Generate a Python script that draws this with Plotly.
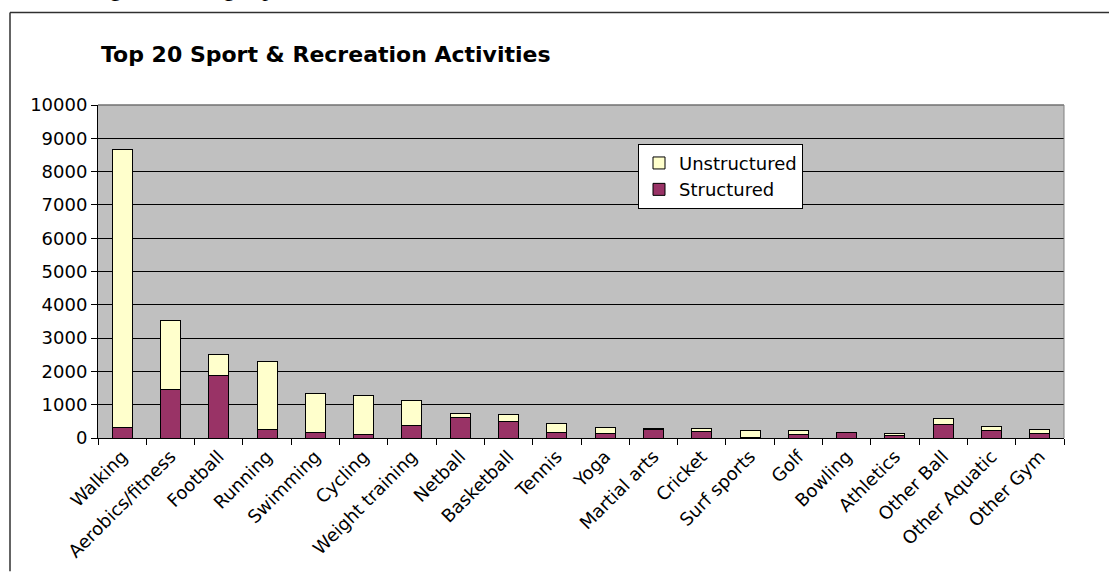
import plotly.graph_objects as go

categories = ["Walking", "Aerobics/fitness", "Football", "Running", "Swimming", "Cycling",
              "Weight training", "Netball", "Basketball", "Tennis", "Yoga", "Martial arts",
              "Cricket", "Surf sports", "Golf", "Bowling", "Athletics", "Other Ball",
              "Other Aquatic", "Other Gym"]
structured = [320, 1470, 1870, 260, 180, 100, 380, 630, 500, 180, 140, 265, 205, 20, 100, 160, 80, 405, 230, 140]
unstructured = [8330, 2060, 650, 2050, 1160, 1165, 745, 110, 210, 265, 175, 20, 90, 210, 120, 15, 60, 175, 115, 125]
y_ticks = list(range(0, 10001, 1000))

W, H = 1109, 574
L, R, T, B = 98, 1064, 105, 440


def px(x):
    return (x - L) / (R - L)


def py(y):
    return (B - y) / (B - T)


FONT = "DejaVu Sans, Liberation Sans, Arial, sans-serif"

fig = go.Figure()
fig.add_trace(go.Bar(name="Structured", x=categories, y=structured,
                     marker=dict(color="#993366", line=dict(color="black", width=1))))
fig.add_trace(go.Bar(name="Unstructured", x=categories, y=unstructured,
                     marker=dict(color="#FFFFCC", line=dict(color="black", width=1))))

fig.update_layout(
    width=W, height=H,
    margin=dict(l=L, r=W - R, t=T, b=H - B, pad=0),
    barmode="stack", bargap=0.585,
    paper_bgcolor="white", plot_bgcolor="#C0C0C0",
    font=dict(family=FONT, size=18, color="black"),
    showlegend=True,
    legend=dict(x=px(638), y=py(144), xanchor="left", yanchor="top",
                traceorder="reversed", bgcolor="white", bordercolor="black", borderwidth=1,
                font=dict(size=18), itemwidth=30, tracegroupgap=0),
    xaxis=dict(tickangle=-45, ticks="outside", ticklen=6, tickcolor="black",
               tickson="boundaries", showline=True, linecolor="black", linewidth=1,
               showgrid=False, tickfont=dict(size=18)),
    yaxis=dict(range=[0, 10000], tickvals=y_ticks, ticktext=[str(v) for v in y_ticks],
               ticks="outside", ticklen=6,
               tickcolor="black", showline=True, linecolor="black", linewidth=1,
               showgrid=True, gridcolor="black", gridwidth=1, zeroline=False,
               tickfont=dict(size=18)),
)

# plot area top/right edge
fig.add_shape(type="line", xref="paper", yref="paper", x0=0, x1=1, y0=1, y1=1,
              line=dict(color="#707070", width=1.5))
fig.add_shape(type="line", xref="paper", yref="paper", x0=1, x1=1, y0=0, y1=1,
              line=dict(color="#808080", width=1))
# outer frame
fig.add_shape(type="line", xref="paper", yref="paper", x0=px(10), x1=px(W), y0=py(12), y1=py(12),
              line=dict(color="#303030", width=1.5))
fig.add_shape(type="line", xref="paper", yref="paper", x0=px(10), x1=px(10), y0=py(12), y1=py(H),
              line=dict(color="#303030", width=1.5))

fig.add_annotation(text="<b>Top 20 Sport &amp; Recreation Activities</b>", xref="paper", yref="paper",
                   x=px(99), y=py(54), xanchor="left", yanchor="middle", showarrow=False,
                   font=dict(family=FONT, size=22, color="black"))
fig.add_annotation(text="surrounding the walking experience.", xref="paper", yref="paper",
                   x=px(8), y=py(2), xanchor="left", yanchor="bottom", showarrow=False,
                   font=dict(family="Liberation Serif, Times New Roman, serif", size=23, color="black"))

fig.write_html("out.html", config={"displayModeBar": False},
               post_script="document.body.style.margin='0px';")
